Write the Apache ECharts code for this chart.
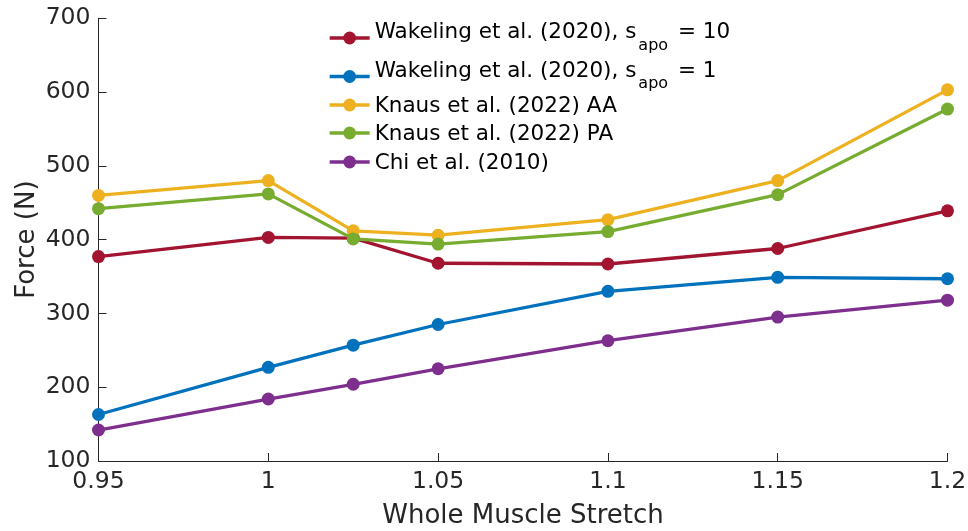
<!DOCTYPE html>
<html>
<head>
<meta charset="utf-8">
<script src="https://cdn.jsdelivr.net/npm/echarts@6/dist/echarts.min.js"></script>
<style>
  html, body { margin: 0; padding: 0; background: #fff; }
  #chart { width: 968px; height: 531px; }
</style>
</head>
<body>
<div id="chart"></div>
<script>
// Whole-muscle stretch values (x) and force in newtons for each model
const stretch = [0.95, 1.0, 1.025, 1.05, 1.1, 1.15, 1.2];
const wakeling10 = [377, 403, 402, 368, 367, 388, 439];
const wakeling1 = [163, 227, 257, 285, 330, 349, 347];
const knausAA = [460, 480, 412, 406, 427, 480, 603];
const knausPA = [442, 462, 401, 394, 411, 461, 577];
const chi = [142, 184, 204, 225, 263, 295, 318];

const seriesNames = [
  'Wakeling et al. (2020), s_apo = 10',
  'Wakeling et al. (2020), s_apo = 1',
  'Knaus et al. (2022) AA',
  'Knaus et al. (2022) PA',
  'Chi et al. (2010)'
];
const seriesData = [wakeling10, wakeling1, knausAA, knausPA, chi];
const seriesColors = ['#A2142F', '#0072BD', '#EDB120', '#77AC30', '#7E2F8E'];

const FONT = 'DejaVu Sans';
const INK = '#262626';

const chart = echarts.init(document.getElementById('chart'), null, { renderer: 'canvas' });

const series = seriesNames.map((name, i) => ({
  name: name,
  type: 'line',
  data: stretch.map((x, j) => [x, seriesData[i][j]]),
  color: seriesColors[i],
  symbol: 'circle',
  symbolSize: 13,
  showSymbol: true,
  lineStyle: { width: 3.3 },
  animation: false,
  z: 2 + i
}));

// Legend labels: "s_apo" is written with a subscript; spacer lines
// nudge the text block relative to the legend marker
function legendLabel(name) {
  const m = name.match(/^(.*), s_apo = (.*)$/);
  if (m) {
    return '{n|' + m[1] + ', s}{sub|apo}{n| = ' + m[2] + '}\n{gapB| }';
  }
  return '{gapT| }\n{n|' + name + '}';
}

// One legend block per entry so each row sits at its own height
const legendTops = [21.5, 60, 92.5, 120.5, 149.5];
const legends = seriesNames.map((name, i) => ({
  orient: 'vertical',
  left: 328,
  top: legendTops[i],
  padding: 0,
  itemWidth: 40,
  itemHeight: 16,
  itemGap: 0,
  data: [name],
  formatter: legendLabel,
  lineStyle: { width: 3.3 },
  textStyle: {
    fontFamily: FONT,
    color: '#000',
    rich: {
      n: { fontFamily: FONT, fontSize: 21.5, color: '#000', verticalAlign: 'top', lineHeight: 24 },
      sub: { fontFamily: FONT, fontSize: 16, color: '#000', verticalAlign: 'top', lineHeight: 17, padding: [16, 3, 0, 2] },
      gapB: { fontSize: 1, lineHeight: 9 },
      gapT: { fontSize: 1, lineHeight: 5 }
    }
  }
}));

chart.setOption({
  backgroundColor: '#ffffff',
  animation: false,
  grid: { left: 98.5, right: 20.5, top: 18.3, bottom: 70, containLabel: false, outerBoundsMode: 'none' },
  legend: legends,
  xAxis: {
    type: 'value',
    min: 0.95,
    max: 1.2,
    interval: 0.05,
    name: 'Whole Muscle Stretch',
    nameLocation: 'middle',
    nameGap: 42,
    nameMoveOverlap: false,
    nameTextStyle: { fontFamily: FONT, fontSize: 26, color: INK },
    axisLine: { show: true, onZero: false, lineStyle: { color: INK, width: 1 } },
    axisTick: { show: true, inside: true, length: 8, lineStyle: { color: INK, width: 1 } },
    splitLine: { show: false },
    axisLabel: {
      fontFamily: FONT, fontSize: 23.5, color: INK, margin: 9,
      formatter: v => String(parseFloat(v.toFixed(2)))
    }
  },
  yAxis: {
    type: 'value',
    min: 100,
    max: 700,
    interval: 100,
    name: 'Force (N)',
    nameLocation: 'middle',
    nameRotate: 90,
    nameGap: 58,
    nameMoveOverlap: false,
    nameTextStyle: { fontFamily: FONT, fontSize: 26, color: INK },
    axisLine: { show: true, onZero: false, lineStyle: { color: INK, width: 1 } },
    axisTick: { show: true, inside: true, length: 8, lineStyle: { color: INK, width: 1 } },
    splitLine: { show: false },
    axisLabel: { fontFamily: FONT, fontSize: 23.5, color: INK, margin: 8 }
  },
  series: series
});
</script>
</body>
</html>
